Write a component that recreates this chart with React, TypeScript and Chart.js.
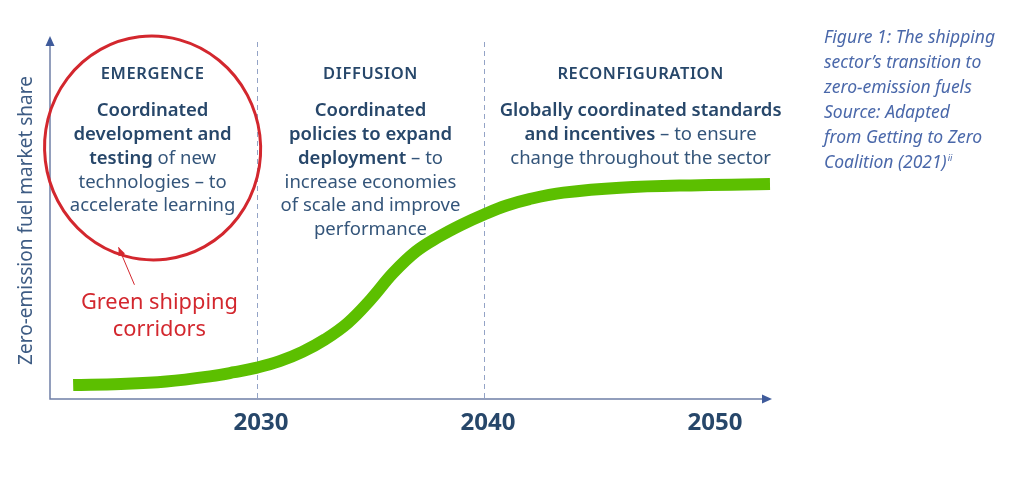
import React, { useEffect, useRef } from "react";
import { Chart, registerables } from "chart.js";

Chart.register(...registerables);

// ---- data ----
const years = [2021.9, 2024, 2026, 2028, 2029, 2030, 2031, 2032, 2033, 2034, 2035, 2036, 2037, 2038, 2039, 2040, 2041, 2042, 2043.5, 2046, 2049.5, 2052.6];
const marketShare = [3.9, 4.2, 4.9, 6.4, 7.5, 8.8, 10.6, 13.2, 16.7, 21.3, 27.8, 35.3, 41.3, 45.4, 48.8, 51.7, 54.2, 56.0, 57.8, 59.2, 59.9, 60.2];
const tickYears = [2030, 2040, 2050];
const phaseBoundaries = [2030, 2040];
const phaseTitles = ["EMERGENCE", "DIFFUSION", "RECONFIGURATION"];
const phaseCenters = [2025.4, 2035, 2046.9];
type Seg = [string, boolean];
const phaseBodies: Seg[][][] = [
  [
    [["Coordinated", true]],
    [["development and", true]],
    [["testing", true], [" of new", false]],
    [["technologies – to", false]],
    [["accelerate learning", false]],
  ],
  [
    [["Coordinated", true]],
    [["policies to expand", true]],
    [["deployment", true], [" – to", false]],
    [["increase economies", false]],
    [["of scale and improve", false]],
    [["performance", false]],
  ],
  [
    [["Globally coordinated standards", true]],
    [["and incentives", true], [" – to ensure", false]],
    [["change throughout the sector", false]],
  ],
];
const yAxisTitle = "Zero-emission fuel market share";
const corridorLabel = ["Green shipping", "corridors"];
const captionLines = [
  "Figure 1: The shipping",
  "sector’s transition to",
  "zero-emission fuels",
  "Source: Adapted",
  "from Getting to Zero",
  "Coalition (2021)",
];

const FONT = "'Noto Sans', sans-serif";
const TEXT = "#27476a";
const TEXT_LIGHT = "#34557a";
const AXIS = "#6f7fa6";
const ARROW = "#3f5b9b";
const RED = "#d3272e";
const GREEN = "#5cbf00";
const CAPTION = "#4a68aa";

function drawRich(ctx: CanvasRenderingContext2D, segs: Seg[], cx: number, y: number, size: number) {
  let total = 0;
  const widths = segs.map(([t, b]) => {
    ctx.font = `${b ? 600 : 400} ${size}px ${FONT}`;
    const w = ctx.measureText(t).width;
    total += w;
    return w;
  });
  let x = cx - total / 2;
  segs.forEach(([t, b], i) => {
    ctx.font = `${b ? 600 : 400} ${size}px ${FONT}`;
    ctx.fillStyle = b ? TEXT : TEXT_LIGHT;
    ctx.fillText(t, x, y);
    x += widths[i];
  });
}

const overlay = {
  id: "overlay",
  beforeDatasetsDraw(chart: any) {
    const { ctx, chartArea: ca, scales } = chart;
    const xs = scales.x;
    ctx.save();
    // dashed phase boundaries
    ctx.strokeStyle = "#93a3c6";
    ctx.lineWidth = 1;
    ctx.setLineDash([5, 4]);
    phaseBoundaries.forEach((v) => {
      const px = Math.round(xs.getPixelForValue(v)) + 0.5;
      ctx.beginPath();
      ctx.moveTo(px, ca.top);
      ctx.lineTo(px, ca.bottom);
      ctx.stroke();
    });
    ctx.setLineDash([]);
    // axes
    ctx.strokeStyle = AXIS;
    ctx.lineWidth = 1.5;
    ctx.beginPath();
    ctx.moveTo(ca.left, ca.top - 2);
    ctx.lineTo(ca.left, ca.bottom);
    ctx.lineTo(ca.right - 2, ca.bottom);
    ctx.stroke();
    ctx.fillStyle = ARROW;
    ctx.beginPath();
    ctx.moveTo(ca.left, ca.top - 6);
    ctx.lineTo(ca.left - 4.5, ca.top + 4);
    ctx.lineTo(ca.left + 4.5, ca.top + 4);
    ctx.closePath();
    ctx.fill();
    ctx.beginPath();
    ctx.moveTo(ca.right + 2, ca.bottom);
    ctx.lineTo(ca.right - 8, ca.bottom - 4.5);
    ctx.lineTo(ca.right - 8, ca.bottom + 4.5);
    ctx.closePath();
    ctx.fill();
    // tick labels
    ctx.fillStyle = TEXT;
    ctx.font = `700 24px ${FONT}`;
    ctx.textAlign = "center";
    ctx.textBaseline = "middle";
    tickYears.forEach((v) => {
      ctx.fillText(String(v), xs.getPixelForValue(v) + 4, ca.bottom + 24);
    });
    // y axis title
    ctx.save();
    ctx.translate(ca.left - 23, (ca.top + ca.bottom) / 2);
    ctx.rotate(-Math.PI / 2);
    ctx.fillStyle = "#3e5c84";
    ctx.font = `400 19px ${FONT}`;
    ctx.fillText(yAxisTitle, 0, 0);
    ctx.restore();
    // phase text
    phaseTitles.forEach((t, i) => {
      const cx = xs.getPixelForValue(phaseCenters[i]);
      ctx.fillStyle = TEXT;
      ctx.textAlign = "center";
      ctx.font = `600 16.5px ${FONT}`;
      (ctx as any).letterSpacing = "0.6px";
      ctx.fillText(t, cx, 74);
      (ctx as any).letterSpacing = "0px";
      ctx.textAlign = "left";
      phaseBodies[i].forEach((line, j) => {
        drawRich(ctx, line, cx, 111 + j * 23.8, 18.5);
      });
    });
    ctx.restore();
  },
  afterDatasetsDraw(chart: any) {
    const { ctx, scales } = chart;
    const xs = scales.x;
    const ys = scales.y;
    ctx.save();
    // red ellipse
    const ex = xs.getPixelForValue(2025.4);
    const ey = ys.getPixelForValue(70.3);
    ctx.strokeStyle = RED;
    ctx.lineWidth = 3;
    ctx.beginPath();
    ctx.ellipse(ex, ey, 108, 112, -0.12, 0, Math.PI * 2);
    ctx.stroke();
    // arrow
    const ax0 = xs.getPixelForValue(2024.6), ay0 = ys.getPixelForValue(32);
    const ax1 = xs.getPixelForValue(2023.9), ay1 = ys.getPixelForValue(42.5);
    ctx.lineWidth = 1;
    ctx.beginPath();
    ctx.moveTo(ax0, ay0);
    ctx.lineTo(ax1, ay1);
    ctx.stroke();
    const ang = Math.atan2(ay1 - ay0, ax1 - ax0);
    ctx.fillStyle = RED;
    ctx.beginPath();
    ctx.moveTo(ax1, ay1);
    ctx.lineTo(ax1 - 9 * Math.cos(ang - 0.4), ay1 - 9 * Math.sin(ang - 0.4));
    ctx.lineTo(ax1 - 9 * Math.cos(ang + 0.4), ay1 - 9 * Math.sin(ang + 0.4));
    ctx.closePath();
    ctx.fill();
    // corridor label
    ctx.textAlign = "center";
    ctx.textBaseline = "middle";
    ctx.font = `400 21.8px ${FONT}`;
    corridorLabel.forEach((t, i) => {
      ctx.fillText(t, xs.getPixelForValue(2025.7), 303 + i * 27);
    });
    // caption
    ctx.fillStyle = CAPTION;
    ctx.textAlign = "left";
    ctx.font = `italic 400 17.5px ${FONT}`;
    captionLines.forEach((t, i) => {
      ctx.fillText(t, 824, 38 + i * 25);
    });
    const last = captionLines[captionLines.length - 1];
    const w = ctx.measureText(last).width;
    ctx.font = `italic 400 9px ${FONT}`;
    ctx.fillText("ii", 824 + w + 1, 38 + 5 * 25 - 5);
    ctx.restore();
  },
};

export default function App() {
  const ref = useRef<HTMLCanvasElement>(null);
  useEffect(() => {
    if (!ref.current) return;
    const chart = new Chart(ref.current, {
      type: "line",
      data: {
        datasets: [
          {
            data: years.map((x, i) => ({ x, y: marketShare[i] })),
            borderColor: GREEN,
            borderWidth: 12,
            borderCapStyle: "butt",
            borderJoinStyle: "round",
            pointRadius: 0,
            tension: 0.4,
            fill: false,
          },
        ],
      },
      options: {
        animation: false,
        responsive: false,
        events: [],
        layout: { padding: { left: 50, right: 254, top: 42, bottom: 80 } },
        scales: {
          x: { type: "linear", min: 2020.88, max: 2052.6, display: false },
          y: { type: "linear", min: 0, max: 100, display: false },
        },
        plugins: { legend: { display: false }, tooltip: { enabled: false } },
        clip: false as any,
      } as any,
      plugins: [overlay],
    });
    return () => chart.destroy();
  }, []);
  return (
    <div style={{ position: "absolute", left: 0, top: 0, width: 1024, height: 479, background: "#fff" }}>
      <canvas ref={ref} width={1024} height={479} style={{ width: 1024, height: 479 }} />
    </div>
  );
}
